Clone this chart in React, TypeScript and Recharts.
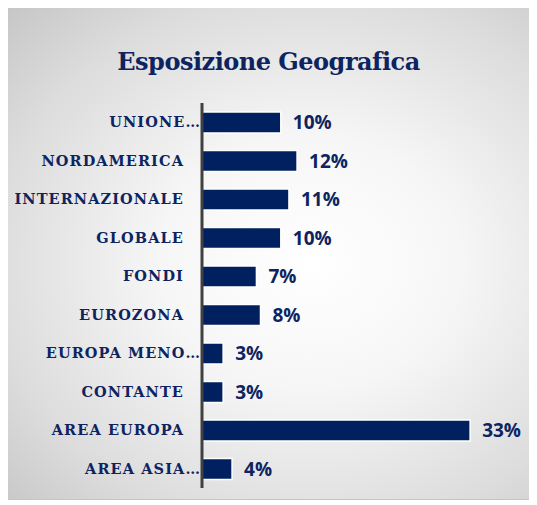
import React from 'react';
import { BarChart, Bar, XAxis, YAxis, LabelList } from 'recharts';

const categories = [
  'UNIONE…',
  'NORDAMERICA',
  'INTERNAZIONALE',
  'GLOBALE',
  'FONDI',
  'EUROZONA',
  'EUROPA MENO…',
  'CONTANTE',
  'AREA EUROPA',
  'AREA ASIA…',
];
const values = [9.7, 11.7, 10.7, 9.7, 6.7, 7.2, 2.6, 2.6, 33, 3.7];
const valueLabels = ['10%', '12%', '11%', '10%', '7%', '8%', '3%', '3%', '33%', '4%'];

const data = categories.map((name, i) => ({ name, value: values[i], label: valueLabels[i] }));

const navy = '#0d2460';

function CategoryTick(props: any) {
  const { x, y, payload } = props;
  const truncated = String(payload.value).endsWith('…');
  return (
    <text
      x={x + (truncated ? 17 : 0)}
      y={y}
      dy={5}
      textAnchor="end"
      fill={navy}
      fontFamily="'DejaVu Serif', serif"
      fontSize={14.5}
      fontWeight={600}
      letterSpacing={1.1}
    >
      {payload.value}
    </text>
  );
}

export default function App() {
  return (
    <div
      style={{
        position: 'relative',
        marginLeft: -2,
        marginTop: -2,
        width: 523,
        height: 492,
        border: '1px solid #c4c4c4',
        background:
          'radial-gradient(ellipse at 58% 52%, #ffffff 0%, #f6f6f6 35%, #dcdcdc 75%, #c6c6c6 100%)',
      }}
    >
      <div
        style={{
          position: 'absolute',
          top: 40,
          left: 0,
          width: '100%',
          textAlign: 'center',
          fontFamily: "'DejaVu Serif', serif",
          fontWeight: 'bold',
          fontSize: 24,
          letterSpacing: -0.5,
          color: navy,
        }}
      >
        Esposizione Geografica
      </div>
      <div style={{ position: 'absolute', top: 0, left: 0 }}>
        <BarChart
          width={523}
          height={492}
          data={data}
          layout="vertical"
          margin={{ top: 96, right: 3, bottom: 11, left: 0 }}
        >
          <XAxis type="number" domain={[0, 40]} hide />
          <YAxis
            type="category"
            dataKey="name"
            width={195}
            axisLine={{ stroke: '#404040', strokeWidth: 3 }}
            tickLine={false}
            tickSize={0}
            tickMargin={18}
            tick={<CategoryTick />}
            interval={0}
          />
          <Bar
            dataKey="value"
            fill="#002060"
            stroke="#ffffff"
            strokeWidth={1.5}
            barSize={21}
            isAnimationActive={false}
          >
            <LabelList
              dataKey="label"
              position="right"
              offset={12}
              fill={navy}
              fontFamily="'Open Sans', sans-serif"
              fontWeight="bold"
              fontSize={19}
            />
          </Bar>
        </BarChart>
      </div>
    </div>
  );
}
